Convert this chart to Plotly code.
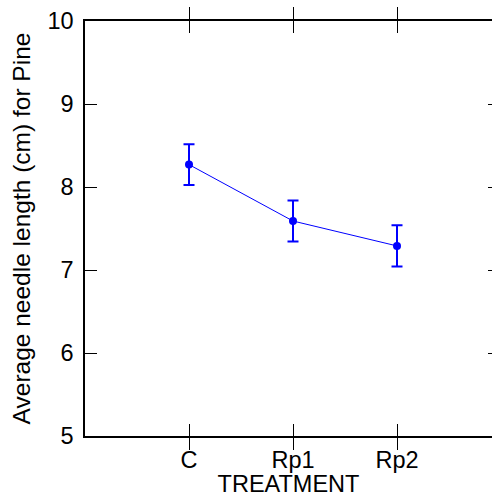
import plotly.graph_objects as go

treatments = ["C", "Rp1", "Rp2"]
mean_length = [8.27, 7.59, 7.29]
err_length = [0.245, 0.248, 0.248]
y_ticks = [5, 6, 7, 8, 9, 10]

FONT = "Liberation Sans, Arial, sans-serif"
BLUE = "#0000FF"

fig = go.Figure()
fig.add_trace(go.Scatter(
    x=treatments, y=mean_length,
    mode="lines+markers",
    line=dict(color=BLUE, width=1),
    marker=dict(color=BLUE, size=8),
    error_y=dict(type="data", array=err_length, visible=True,
                 color=BLUE, thickness=2, width=5.5),
    showlegend=False,
))
# invisible copy that carries the right-hand tick axis
fig.add_trace(go.Scatter(
    x=treatments, y=mean_length, yaxis="y2",
    mode="markers", marker=dict(opacity=0),
    hoverinfo="skip", showlegend=False,
))

fig.update_layout(
    width=492, height=497,
    margin=dict(l=85, r=0, t=21, b=61),
    paper_bgcolor="white", plot_bgcolor="white",
    font=dict(family=FONT, size=23.5, color="black"),
    xaxis=dict(
        type="category", range=[-1, 3 - 9 / 104],
        showline=True, linecolor="black", linewidth=1.5, mirror="allticks",
        ticks="inside", ticklen=12, tickcolor="black", tickwidth=1,
        showgrid=False, zeroline=False,
        ticklabelstandoff=2,
        title=dict(text="TREATMENT", standoff=0, font=dict(size=23.5)),
        tickfont=dict(size=23.5),
    ),
    yaxis=dict(
        range=[5, 10], tickvals=y_ticks,
        showline=True, linecolor="black", linewidth=1.5, mirror=False,
        ticks="inside", ticklen=12, tickcolor="black", tickwidth=1,
        showgrid=False, zeroline=False,
        ticklabelstandoff=5,
        title=dict(text="Average needle length (cm) for Pine", standoff=10, font=dict(size=24.5)),
        tickfont=dict(size=23.5),
    ),
    yaxis2=dict(
        overlaying="y", side="right", anchor="x",
        range=[5, 10], tickvals=y_ticks,
        showline=False, ticks="inside", ticklen=4, tickcolor="black", tickwidth=1,
        showticklabels=False, showgrid=False, zeroline=False,
    ),
)

fig.write_html(
    "out.html",
    config={"responsive": False, "displayModeBar": False},
    post_script="document.body.style.margin='0';document.body.style.overflow='hidden';",
)
